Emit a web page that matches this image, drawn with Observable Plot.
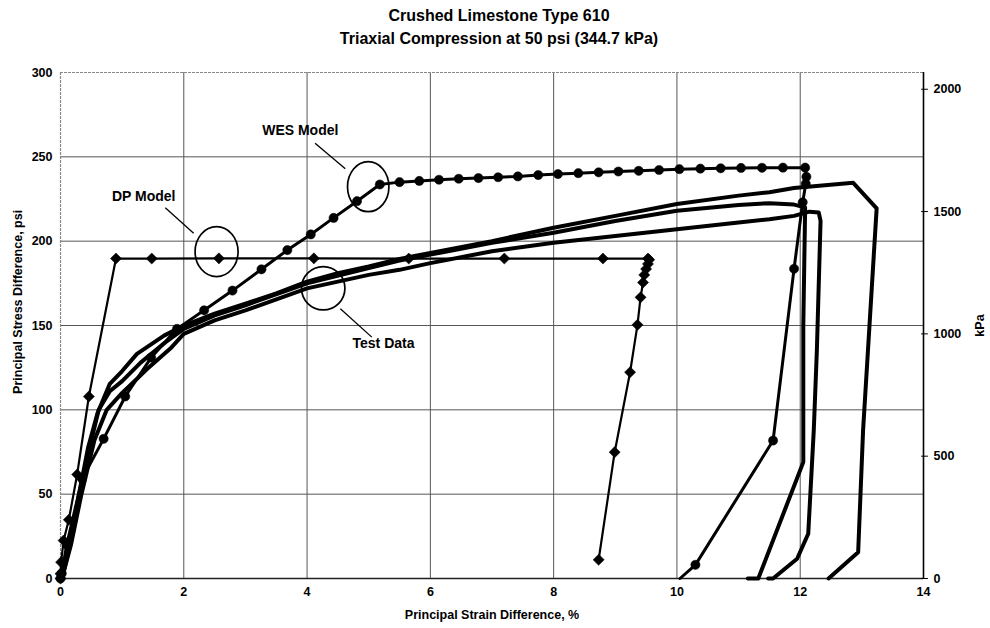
<!DOCTYPE html>
<html>
<head>
<meta charset="utf-8">
<script src="https://cdn.jsdelivr.net/npm/d3@7"></script>
<script src="https://cdn.jsdelivr.net/npm/@observablehq/plot@0.6"></script>
<style>
  html, body { margin: 0; padding: 0; background: #fff; }
  body { width: 990px; height: 628px; overflow: hidden; font-family: 'Liberation Sans', Arial, sans-serif; }
  #title { height: 52px; box-sizing: border-box; padding-top: 4px; text-align: center; font-weight: bold; font-size: 16px; line-height: 23px; color: #000; }
  #title div { padding-left: 8px; }
</style>
</head>
<body>
<div id="title"><div>Crushed Limestone Type 610</div><div>Triaxial Compression at 50 psi (344.7 kPa)</div></div>
<div id="chart"></div>
<script>
// ---------- data ----------
const xTicks = [0, 2, 4, 6, 8, 10, 12, 14];
const yTicks = [0, 50, 100, 150, 200, 250, 300];
const kPaTicks = [0, 500, 1000, 1500, 2000];
const KPA_PER_PSI = 6.894757;

const titleLines = ["Crushed Limestone Type 610", "Triaxial Compression at 50 psi (344.7 kPa)"];
const xLabel = "Principal Strain Difference, %";
const yLabel = "Principal Stress Difference, psi";
const y2Label = "kPa";

// DP Model (diamonds)
const dpX = [0, 0, 0.01, 0.05, 0.135, 0.27, 0.46, 0.9, 1.48, 2.57, 4.11, 5.65, 7.2, 8.8, 9.53,
             9.55, 9.53, 9.5, 9.47, 9.45, 9.41, 9.36, 9.24, 8.99, 8.73];
const dpY = [0, 2.8, 9.7, 22.5, 34.8, 61.7, 107.9, 189.7, 189.7, 189.8, 189.8, 189.7, 189.7, 189.7, 189.7,
             189, 186.5, 183.5, 180, 175.5, 166.7, 150.4, 122.3, 74.9, 11.1];

// WES Model (circles)
const wesX = [0, 0.02, 0.1, 0.35, 0.70, 1.05, 1.47, 1.89, 2.33, 2.79, 3.26, 3.68, 4.06, 4.43, 4.81, 5.18,
              5.50, 5.82, 6.14, 6.46, 6.78, 7.10, 7.42, 7.75, 8.07, 8.40, 8.73, 9.05, 9.38, 9.71, 10.04,
              10.38, 10.71, 11.04, 11.38, 11.72, 12.08, 12.1, 12.09, 12.04, 11.9, 11.56, 10.3, 10.05];
const wesY = [0, 3, 20, 59.1, 82.8, 107.9, 131, 148, 159, 170.7, 183.3, 194.7, 204, 213.8, 223.7, 233.6,
              235, 235.7, 236.4, 237, 237.4, 237.9, 238.4, 239.2, 239.8, 240.3, 240.8, 241.3, 241.7, 242.2, 242.7,
              243, 243.2, 243.4, 243.5, 243.6, 243.6, 238.2, 234, 223, 183.6, 81.8, 8.1, 0];
const wesMarked = wesX.length - 1; // last vertex is where the line meets the axis (no marker)

// Test Data (three thick curves)
const testAX = [0, 0.05, 0.15, 0.3, 0.45, 0.6, 0.8, 1.0, 1.24, 1.68, 2, 2.5, 3, 3.5, 4, 4.5, 5, 5.5, 6, 7, 8, 9, 10, 11, 11.5, 11.9, 12.86, 13.24, 13.02, 12.94, 12.46];
const testAY = [0, 5, 20, 50, 78, 98, 115.4, 123, 133.2, 144, 150, 157, 163, 169, 176, 181, 185, 189.5, 193, 200, 208, 215, 222, 227, 229, 231.5, 234.6, 219.5, 88, 15.6, 0];
const testBX = [0, 0.06, 0.17, 0.34, 0.55, 0.75, 1.0, 1.4, 1.8, 2, 2.5, 3, 4, 5, 5.5, 6, 7, 8, 9, 10, 11, 11.5, 11.9, 12.15, 12.3, 12.33, 12.27, 12.22, 12.13, 11.95, 11.56, 11.48];
const testBY = [0, 5, 20, 50, 82, 100, 110, 124, 137, 145, 153, 159, 172, 180, 183, 187, 194, 199, 203, 207, 211, 213, 215, 217.5, 217, 212, 135, 88, 26.5, 11.7, 0, 0];
const testCX = [0, 0.05, 0.15, 0.32, 0.5, 0.62, 0.8, 1.0, 1.3, 1.7, 2, 2.5, 3, 4, 5, 5.5, 6, 7, 8, 9, 10, 11, 11.5, 11.9, 12.08, 12.05, 12.05, 11.32, 11.15];
const testCY = [0, 4, 19, 52, 82, 100, 111, 117, 128, 140, 148, 156, 162, 175, 184, 188.5, 192, 199, 205, 212, 218, 221.5, 222.5, 221.7, 220, 150, 69, 0, 0];

// annotations
const annText = ["DP Model", "WES Model", "Test Data"];
const annTextX = [1.35, 3.89, 5.24];
const annTextY = [226.5, 265.6, 139.5];
const annLeadX1 = [1.70, 4.13, 4.54];
const annLeadY1 = [219.8, 258.1, 159.9];
const annLeadX2 = [2.16, 4.62, 5.05];
const annLeadY2 = [204.7, 242.9, 143.1];
const annRingX = [2.54, 5.0, 4.27];
const annRingY = [193.5, 232, 171.8];

// ---------- build ----------
const pts = (xs, ys) => xs.map((x, i) => ({x, y: ys[i]}));
const dp = pts(dpX, dpY);
const wes = pts(wesX, wesY);
const tA = pts(testAX, testAY), tB = pts(testBX, testBY), tC = pts(testCX, testCY);
const ann = annText.map((t, i) => ({t, tx: annTextX[i], ty: annTextY[i],
  x1: annLeadX1[i], y1: annLeadY1[i], x2: annLeadX2[i], y2: annLeadY2[i],
  cx: annRingX[i], cy: annRingY[i]}));
const ringSize = [[21.5, 25], [20.7, 25], [21.7, 21.7]];
const diamond = d3.symbolDiamond2 || "diamond";
const font = "'Liberation Sans', Arial, sans-serif";

const chart = Plot.plot({
  width: 990,
  height: 576,
  marginTop: 20,
  marginBottom: 50,
  marginLeft: 60,
  marginRight: 67,
  style: {fontFamily: font, fontSize: "12.5px", fontWeight: "bold", background: "#fff", color: "#000", overflow: "visible"},
  x: {domain: [0, 14], ticks: xTicks, tickSize: 0, tickPadding: 9, label: null},
  y: {domain: [0, 300], ticks: yTicks, tickSize: 0, tickPadding: 8, label: null},
  marks: [
    // grid
    Plot.ruleX(xTicks.slice(1, -1), {stroke: "#555", strokeWidth: 1}),
    Plot.ruleY(yTicks.slice(1, -1), {stroke: "#555", strokeWidth: 1}),
    // frame
    Plot.ruleY([300], {stroke: "#888", strokeWidth: 1.2, strokeDasharray: "3,1"}),
    Plot.ruleX([0], {stroke: "#888", strokeWidth: 1.2, strokeDasharray: "3,1"}),
    Plot.ruleY([0], {stroke: "#222", strokeWidth: 1.4}),
    Plot.ruleX([14], {stroke: "#000", strokeWidth: 1.6}),
    // right kPa axis
    Plot.ruleY(kPaTicks, {y: d => d / KPA_PER_PSI, x1: 13.97, x2: 14.08, stroke: "#000", strokeWidth: 1}),
    Plot.text(kPaTicks, {x: () => 14, y: d => d / KPA_PER_PSI, text: d => String(d), textAnchor: "start", dx: 10, fontSize: 12.5, fontWeight: "bold"}),
    // axis titles
    Plot.text([xLabel], {frameAnchor: "bottom", text: d => d, textAnchor: "middle", dy: 40, fontSize: 12.5, fontWeight: "bold"}),
    Plot.text([yLabel], {x: () => 0, y: () => 164, text: d => d, textAnchor: "middle", dx: -43, rotate: -90, fontSize: 12.5, fontWeight: "bold"}),
    Plot.text([y2Label], {x: () => 14, y: () => 150, text: d => d, textAnchor: "middle", dx: 56, rotate: -90, fontSize: 12.5, fontWeight: "bold"}),
    // test data
    Plot.line(tA, {x: "x", y: "y", stroke: "#000", strokeWidth: 4, strokeLinejoin: "round"}),
    Plot.line(tB, {x: "x", y: "y", stroke: "#000", strokeWidth: 4, strokeLinejoin: "round"}),
    Plot.line(tC, {x: "x", y: "y", stroke: "#000", strokeWidth: 4, strokeLinejoin: "round"}),
    // DP model
    Plot.line(dp, {x: "x", y: "y", stroke: "#000", strokeWidth: 2.2}),
    Plot.dot(dp, {x: "x", y: "y", symbol: diamond, r: 5, fill: "#000", stroke: "#000", strokeWidth: 0.5}),
    // WES model
    Plot.line(wes, {x: "x", y: "y", stroke: "#000", strokeWidth: 3}),
    Plot.dot(wes.slice(0, wesMarked), {x: "x", y: "y", r: 4.6, fill: "#000", stroke: "#000", strokeWidth: 0.5}),
    // annotations
    Plot.link(ann, {x1: "x1", y1: "y1", x2: "x2", y2: "y2", stroke: "#000", strokeWidth: 1.3}),
    Plot.dot(ann, {x: "cx", y: "cy", r: 23, fill: "none", stroke: "#000", strokeWidth: 1.7,
      render(index, scales, values) {
        const g = d3.create("svg:g");
        for (const i of index) {
          g.append("ellipse")
            .attr("cx", values.x[i]).attr("cy", values.y[i])
            .attr("rx", ringSize[i][0]).attr("ry", ringSize[i][1])
            .attr("fill", "none").attr("stroke", "#000").attr("stroke-width", 1.7);
        }
        return g.node();
      }}),
    Plot.text(ann, {x: "tx", y: "ty", text: "t", fontSize: 14, fontWeight: "bold"})
  ]
});
document.getElementById("chart").appendChild(chart);
</script>
</body>
</html>
